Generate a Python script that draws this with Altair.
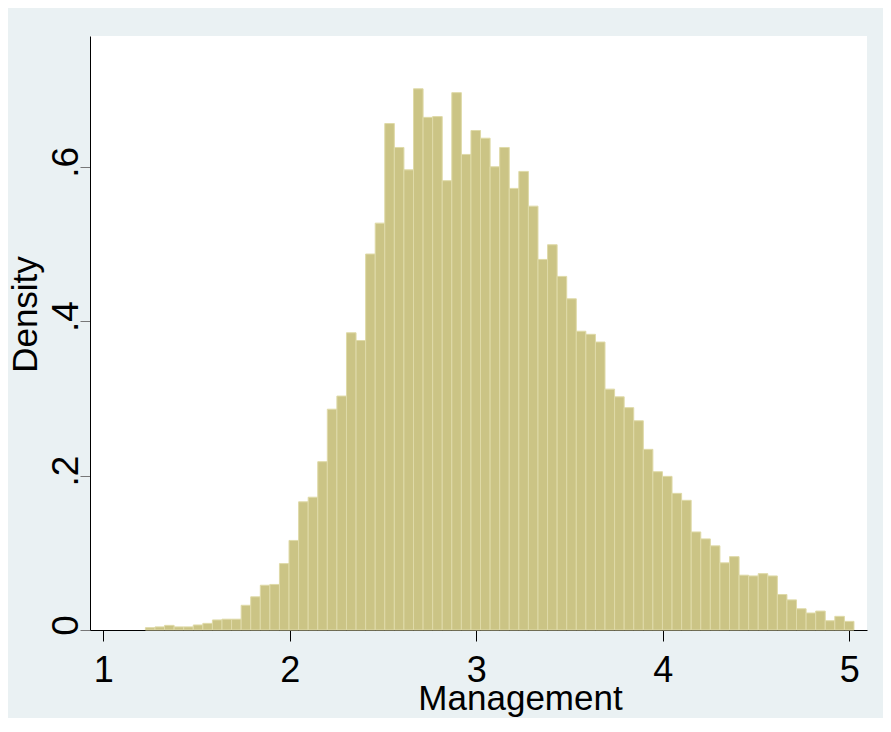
import altair as alt
import pandas as pd

# Histogram of Management scores (density)
BIN_START = 1.226
BIN_WIDTH = 0.05134
density = [
    0.003, 0.004, 0.006, 0.004, 0.004, 0.0065, 0.0086, 0.013, 0.014, 0.014,
    0.032, 0.043, 0.058, 0.059, 0.086, 0.116, 0.166, 0.172, 0.218, 0.286,
    0.303, 0.385, 0.375, 0.487, 0.527, 0.656, 0.625, 0.596, 0.701, 0.664,
    0.665, 0.582, 0.696, 0.616, 0.647, 0.637, 0.600, 0.625, 0.572, 0.594,
    0.549, 0.480, 0.499, 0.458, 0.429, 0.387, 0.383, 0.373, 0.312, 0.302,
    0.288, 0.271, 0.234, 0.205, 0.199, 0.177, 0.168, 0.127, 0.118, 0.109,
    0.087, 0.095, 0.071, 0.070, 0.073, 0.070, 0.046, 0.039, 0.0275, 0.022,
    0.0245, 0.012, 0.0177, 0.0112,
]
x_ticks = [1, 2, 3, 4, 5]
y_ticks = [0, 0.2, 0.4, 0.6]

df = pd.DataFrame({
    "start": [BIN_START + i * BIN_WIDTH for i in range(len(density))],
    "end": [BIN_START + (i + 1) * BIN_WIDTH for i in range(len(density))],
    "density": density,
})

FONT = "Liberation Sans"

bars = alt.Chart(df).mark_rect(
    fill="#CBC485", stroke="#DFDAA8", strokeWidth=1
).encode(
    x=alt.X(
        "start:Q",
        scale=alt.Scale(domain=[0.929, 5.095], nice=False, zero=False),
        axis=alt.Axis(
            values=x_ticks, format="d", title="Management",
            grid=False, domainColor="black", domainWidth=1,
            tickColor="black", tickSize=11, tickWidth=1,
            labelFont=FONT, labelFontSize=36, labelColor="black",
            labelBaseline="alphabetic", labelPadding=40,
            titleFont=FONT, titleFontSize=35, titleFontWeight="normal",
            titleColor="black", titleAlign="center", titleBaseline="alphabetic",
            titleX=430, titleY=79,
        ),
    ),
    x2="end:Q",
    y=alt.Y(
        "density:Q",
        scale=alt.Scale(domain=[0, 0.7694], nice=False),
        axis=alt.Axis(
            values=y_ticks,
            labelExpr="datum.value == 0 ? '0' : '.' + round(datum.value * 10)",
            title="Density", grid=False,
            domainColor="black", domainWidth=1,
            tickColor="#777777", tickSize=10, tickWidth=1,
            labelFont=FONT, labelFontSize=37, labelColor="black",
            labelAngle=270, labelAlign="center", labelBaseline="alphabetic",
            labelPadding=3, labelOffset=-5,
            titleFont=FONT, titleFontSize=35, titleFontWeight="normal",
            titleColor="black", titleAngle=270, titleAlign="center",
            titleBaseline="alphabetic", titleX=-54, titleY=278,
        ),
    ),
    y2=alt.Y2(datum=0),
)

chart = bars.properties(
    width=777,
    height=594,
    autosize=alt.AutoSizeParams(type="none"),
    padding={"left": 82, "top": 28, "right": 16, "bottom": 88},
    background="#EAF1F3",
).configure_view(fill="white", strokeWidth=0)

chart.save("out.html", embed_options={"renderer": "svg", "actions": False})
